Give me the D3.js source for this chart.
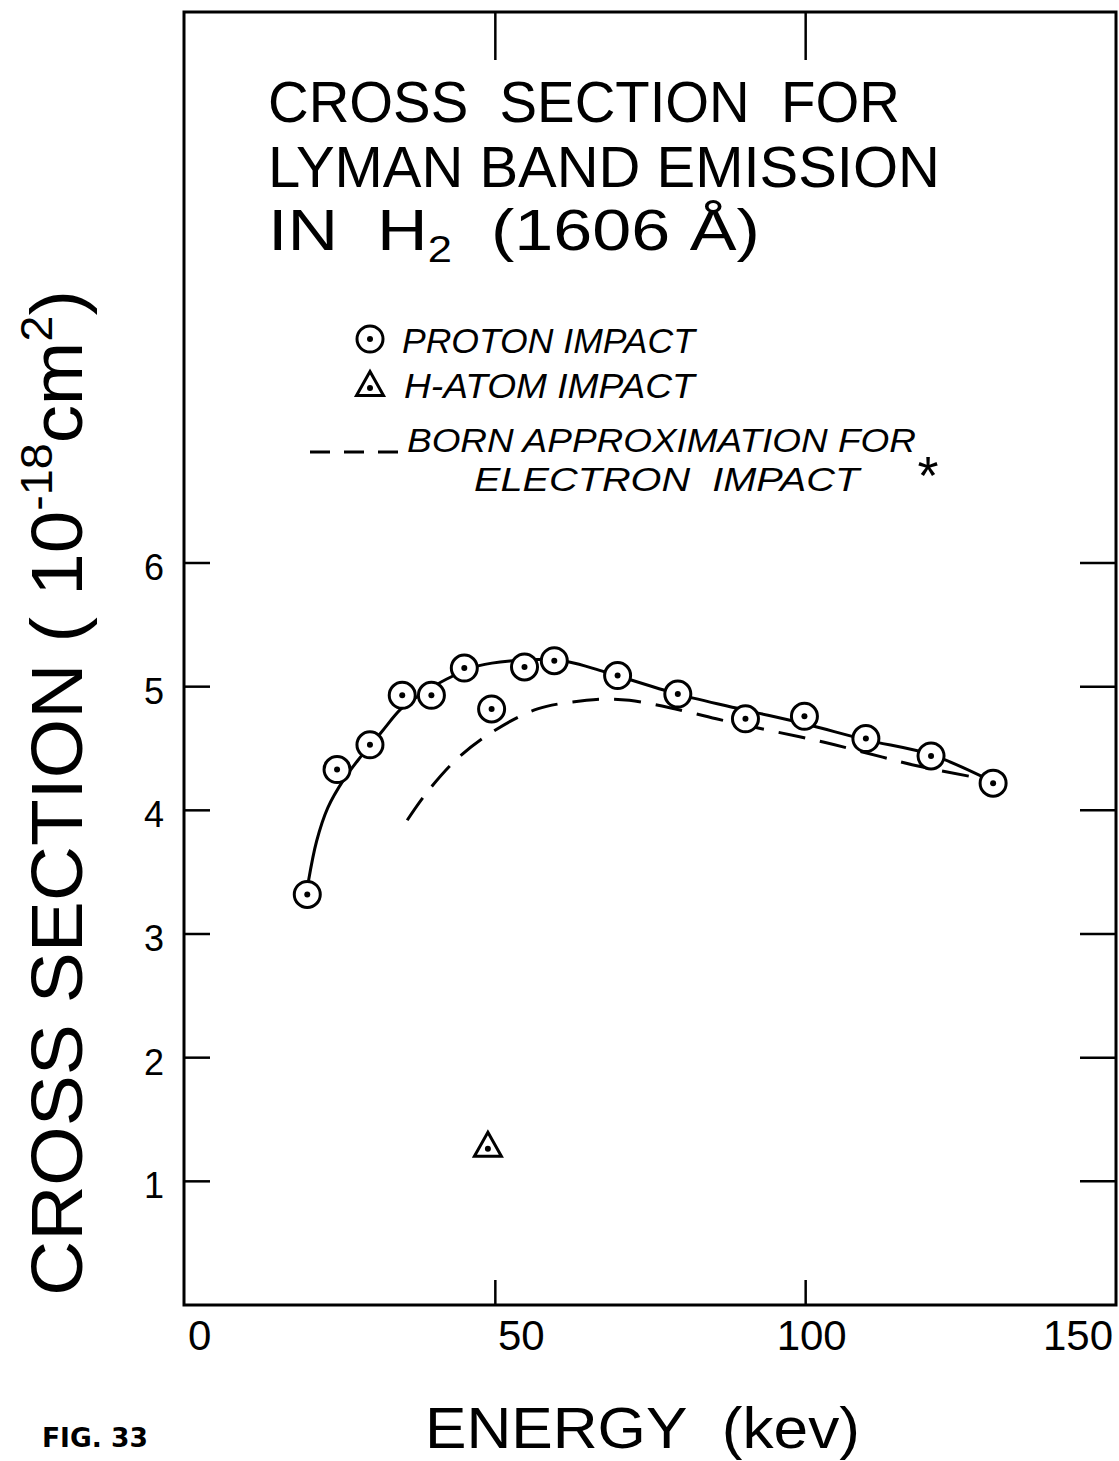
<!DOCTYPE html>
<html>
<head>
<meta charset="utf-8">
<script src="https://cdn.jsdelivr.net/npm/d3@7"></script>
<style>
  html, body { margin: 0; background: #fff; }
  svg { display: block; }
</style>
</head>
<body>
<svg id="chart" width="1119" height="1461"></svg>
<script>
// Proton impact measurements: energy (keV) and cross section (1e-18 cm^2)
const protonEnergy = [19.7, 24.5, 29.8, 35.0, 39.7, 45.0, 49.4, 54.7, 59.5, 69.7, 79.4, 90.3, 99.8, 109.7, 120.2, 130.2];
const protonSigma  = [3.32, 4.33, 4.53, 4.93, 4.93, 5.15, 4.82, 5.16, 5.21, 5.09, 4.94, 4.74, 4.76, 4.58, 4.44, 4.22];

// H-atom impact measurement
const hAtomEnergy = [48.8];
const hAtomSigma  = [1.28];

// Smooth curve drawn through the proton data
const fitEnergy = [19.9, 21.2, 23.0, 25.6, 28.1, 31.6, 34.8, 37.5, 42.1, 47.4, 52.8, 57.6, 61.9, 67.6, 79.4, 90.3, 99.8, 109.7, 120.2, 130.2];
const fitSigma  = [3.43, 3.75, 4.02, 4.25, 4.42, 4.63, 4.82, 4.92, 5.06, 5.17, 5.21, 5.22, 5.20, 5.12, 4.94, 4.81, 4.70, 4.57, 4.45, 4.23];

// Born approximation for electron impact
const bornEnergy = [35.8, 38.9, 43.7, 49.4, 56.8, 64.7, 67.5, 71.6, 78.1, 85.6, 92.9, 103.0, 112.4, 117.9, 128.0, 130.0];
const bornSigma  = [3.92, 4.14, 4.41, 4.63, 4.82, 4.89, 4.90, 4.89, 4.83, 4.74, 4.66, 4.55, 4.43, 4.36, 4.26, 4.24];

// Axis ticks
const xTickValues = [0, 50, 100, 150];
const xTickLabels = ["0", "50", "100", "150"];
const yTickValues = [1, 2, 3, 4, 5, 6];
const yTickLabels = ["1", "2", "3", "4", "5", "6"];

// Text (non-breaking spaces keep the wide lettering gaps)
const NB = "\u00A0";
const titleLines = ["CROSS" + NB + NB + "SECTION" + NB + NB + "FOR", "LYMAN BAND EMISSION"];
const legendLabels = ["PROTON IMPACT", "H-ATOM IMPACT", "BORN APPROXIMATION FOR", "ELECTRON" + NB + NB + "IMPACT"];

// ---- layout ----
const svg = d3.select("#chart");
const frame = { left: 184, right: 1116, top: 12, bottom: 1305 };
const FONT = "'Liberation Sans', Arial, sans-serif";

const x = d3.scaleLinear().domain([0, 150]).range([185, 1116]);
const y = d3.scaleLinear().domain([0, 6]).range([1305, 563]);

// squeeze a text element horizontally to a given width, anchored at x0
function fitWidth(sel, x0, width) {
  const w = sel.node().getBBox().width;
  const s = width / w;
  sel.attr("transform", `translate(${x0},0) scale(${s},1) translate(${-x0},0)`);
}

// frame
svg.append("rect")
  .attr("x", frame.left).attr("y", frame.top)
  .attr("width", frame.right - frame.left).attr("height", frame.bottom - frame.top)
  .attr("fill", "none").attr("stroke", "#000").attr("stroke-width", 3);

// inward ticks: left / right
const gTicks = svg.append("g").attr("stroke", "#000").attr("stroke-width", 2.5);
yTickValues.forEach(v => {
  gTicks.append("line").attr("x1", frame.left).attr("x2", frame.left + 26).attr("y1", y(v)).attr("y2", y(v));
  gTicks.append("line").attr("x1", frame.right - 36).attr("x2", frame.right).attr("y1", y(v)).attr("y2", y(v));
});
// inward ticks: bottom / top (interior values only)
xTickValues.filter(v => v > 0 && v < 150).forEach(v => {
  gTicks.append("line").attr("x1", x(v)).attr("x2", x(v)).attr("y1", frame.bottom).attr("y2", frame.bottom - 25);
  gTicks.append("line").attr("x1", x(v)).attr("x2", x(v)).attr("y1", frame.top).attr("y2", frame.top + 48);
});

// y tick labels
svg.append("g").selectAll("text").data(yTickValues).join("text")
  .attr("x", 164).attr("y", d => y(d) + 4).attr("dy", "0.36em")
  .attr("text-anchor", "end")
  .attr("font-family", FONT).attr("font-size", 36)
  .text((d, i) => yTickLabels[i]);

// x tick labels (hand-lettered placement: the first sits right of its tick, the last left of it)
const xLabelShift = d => d === 50 ? 26 : 6;
svg.append("g").selectAll("text").data(xTickValues).join("text")
  .attr("x", (d, i) => i === 0 ? x(d) + 3 : i === xTickValues.length - 1 ? x(d) - 3 : x(d) + xLabelShift(d))
  .attr("y", 1350)
  .attr("text-anchor", (d, i) => i === 0 ? "start" : i === xTickValues.length - 1 ? "end" : "middle")
  .attr("font-family", FONT).attr("font-size", 42)
  .text((d, i) => xTickLabels[i]);

// x axis title
const xTitle = svg.append("text")
  .attr("x", 425).attr("y", 1448)
  .attr("font-family", FONT).attr("font-size", 58)
  .text("ENERGY" + NB + NB + "(kev)");
fitWidth(xTitle, 425, 435);

// y axis title (rotated)
const gY = svg.append("g").attr("transform", "translate(82,1296) rotate(-90)");
const yTitle = gY.append("text").attr("x", 0).attr("y", 0)
  .attr("font-family", FONT).attr("font-size", 72);
yTitle.append("tspan").text("CROSS SECTION ( 10");
yTitle.append("tspan").attr("font-size", 44).attr("dy", -30).text("-18");
yTitle.append("tspan").attr("dy", 30).text("cm");
yTitle.append("tspan").attr("font-size", 44).attr("dy", -30).text("2");
yTitle.append("tspan").attr("dy", 30).text(")");
fitWidth(yTitle, 0, 1006);

// figure tag
const fig = svg.append("text")
  .attr("x", 42).attr("y", 1447)
  .attr("font-family", "'DejaVu Sans', sans-serif").attr("font-weight", "bold").attr("font-size", 26)
  .text("FIG. 33");
fitWidth(fig, 42, 106);

// title
const titleBase = [122, 187];
const titleWidths = [632, 672];
titleLines.forEach((t, i) => {
  const el = svg.append("text").attr("x", 268).attr("y", titleBase[i])
    .attr("font-family", FONT).attr("font-size", 58).text(t);
  fitWidth(el, 268, titleWidths[i]);
});
const t3 = svg.append("text").attr("x", 268).attr("y", 250)
  .attr("font-family", FONT).attr("font-size", 58);
t3.append("tspan").text("IN" + NB + NB + "H");
t3.append("tspan").attr("font-size", 36).attr("dy", 12).text("2");
t3.append("tspan").attr("dy", -12).text(NB + NB + "(1606" + NB + "Å)");
fitWidth(t3, 268, 492);

// ---- data marks ----
const line = d3.line().x(d => x(d[0])).y(d => y(d[1])).curve(d3.curveCatmullRom.alpha(0.5));

svg.append("path")
  .datum(fitEnergy.map((e, i) => [e, fitSigma[i]]))
  .attr("d", line)
  .attr("fill", "none").attr("stroke", "#000").attr("stroke-width", 3);

svg.append("path")
  .datum(bornEnergy.map((e, i) => [e, bornSigma[i]]))
  .attr("d", line)
  .attr("fill", "none").attr("stroke", "#000").attr("stroke-width", 3)
  .attr("stroke-dasharray", "27,15");

// proton circles with centre dot
function circleMarker(g, cx, cy) {
  g.append("circle").attr("cx", cx).attr("cy", cy).attr("r", 13)
    .attr("fill", "#fff").attr("stroke", "#000").attr("stroke-width", 3);
  g.append("circle").attr("cx", cx).attr("cy", cy).attr("r", 3).attr("fill", "#000");
}
function triangleMarker(g, cx, cy) {
  const h = 24, b = 27;
  g.append("path")
    .attr("d", `M${cx},${cy - h * 0.6} L${cx + b / 2},${cy + h * 0.4} L${cx - b / 2},${cy + h * 0.4} Z`)
    .attr("fill", "#fff").attr("stroke", "#000").attr("stroke-width", 3).attr("stroke-linejoin", "miter");
  g.append("circle").attr("cx", cx).attr("cy", cy + 2).attr("r", 3).attr("fill", "#000");
}

const gPts = svg.append("g");
protonEnergy.forEach((e, i) => circleMarker(gPts, x(e), y(protonSigma[i])));
hAtomEnergy.forEach((e, i) => triangleMarker(gPts, x(e), y(hAtomSigma[i])));

// ---- legend ----
const gLeg = svg.append("g");
circleMarker(gLeg, 370, 339);
triangleMarker(gLeg, 370, 386);
gLeg.append("line").attr("x1", 310).attr("x2", 398).attr("y1", 452).attr("y2", 452)
  .attr("stroke", "#000").attr("stroke-width", 3).attr("stroke-dasharray", "20,14");

const legPos = [[402, 353, 296], [404, 398, 294], [407, 452, 509], [474, 491, 388]];
legendLabels.forEach((t, i) => {
  const [lx, ly, lw] = legPos[i];
  const el = gLeg.append("text").attr("x", lx).attr("y", ly)
    .attr("font-family", FONT).attr("font-style", "italic").attr("font-size", i < 2 ? 36 : 34).text(t);
  fitWidth(el, lx, lw);
});
gLeg.append("text").attr("x", 928).attr("y", 494).attr("text-anchor", "middle")
  .attr("font-family", FONT).attr("font-size", 54).text("*");
</script>
</body>
</html>
